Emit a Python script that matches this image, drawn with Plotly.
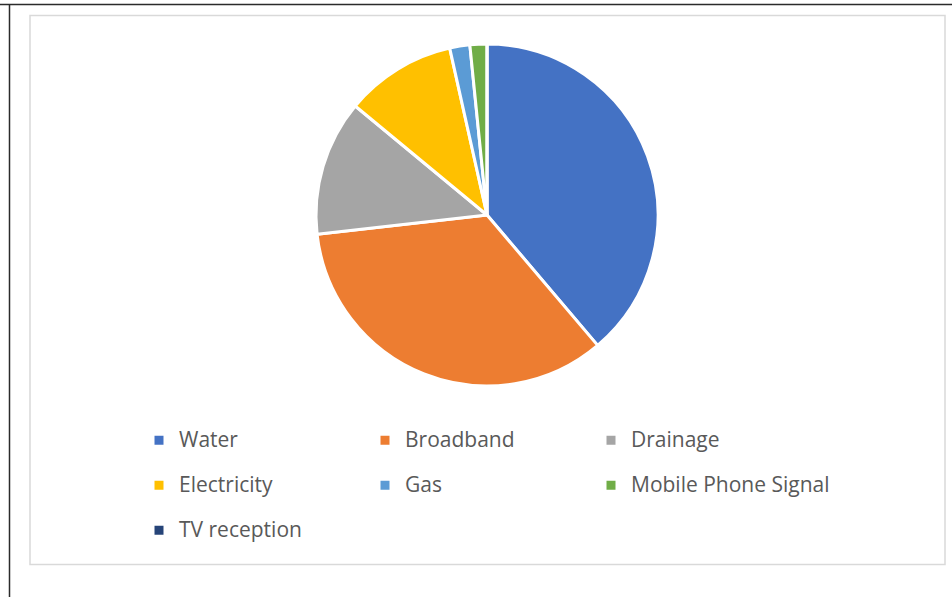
import plotly.graph_objects as go

categories = ["Water", "Broadband", "Drainage", "Electricity", "Gas",
              "Mobile Phone Signal", "TV reception"]
values = [38.8, 34.4, 12.8, 10.5, 1.9, 1.6, 0]
colors = ["#4472C4", "#ED7D31", "#A5A5A5", "#FFC000", "#5B9BD5", "#70AD47", "#264478"]

W, H = 952, 597
ML, MR, MT, MB = 100, 100, 0, 0
PW, PH = W - ML - MR, H - MT - MB


def px(x):
    return (x - ML) / PW


def py(y):
    return 1 - (y - MT) / PH


legend_labels = [f'<span style="font-size:21px">{c}</span><br> ' for c in categories]
# invisible wide legend title so the last column text isn't clipped
spacer_title = '<span style="font-size:21px">' + "&nbsp;" * 140 + "</span>"

fig = go.Figure(go.Pie(
    labels=legend_labels,
    values=values,
    marker=dict(colors=colors, line=dict(color="white", width=3)),
    sort=False,
    direction="clockwise",
    rotation=0,
    textinfo="none",
    hoverinfo="label+value",
    domain=dict(x=[px(316), px(658)], y=[py(386), py(44)]),
))

fig.update_layout(
    width=W, height=H,
    margin=dict(l=ML, r=MR, t=MT, b=MB),
    paper_bgcolor="white",
    plot_bgcolor="white",
    font=dict(family="Open Sans", color="#595959"),
    showlegend=True,
    legend=dict(
        orientation="h",
        x=px(139), xanchor="left",
        y=py(422), yanchor="top",
        entrywidth=181, entrywidthmode="pixels",
        font=dict(size=16.15, color="#595959", family="Open Sans"),
        title=dict(text=spacer_title, side="top", font=dict(size=1, color="rgba(0,0,0,0)")),
        valign="top",
        bgcolor="rgba(0,0,0,0)",
        itemclick=False,
    ),
    shapes=[
        dict(type="line", xref="paper", yref="paper", x0=px(0), x1=px(952), y0=py(4.5), y1=py(4.5),
             line=dict(color="#2b2b2b", width=1.5)),
        dict(type="line", xref="paper", yref="paper", x0=px(9.5), x1=px(9.5), y0=py(4.5), y1=py(597),
             line=dict(color="#2b2b2b", width=1.5)),
        dict(type="rect", xref="paper", yref="paper", x0=px(30), x1=px(945), y0=py(15.5), y1=py(564.5),
             line=dict(color="#d9d9d9", width=1.5), fillcolor="rgba(0,0,0,0)", layer="below"),
    ],
)

fig.write_html(
    "out.html",
    config={"displayModeBar": False},
    post_script="document.body.style.margin='0';document.body.style.overflow='hidden';",
)
